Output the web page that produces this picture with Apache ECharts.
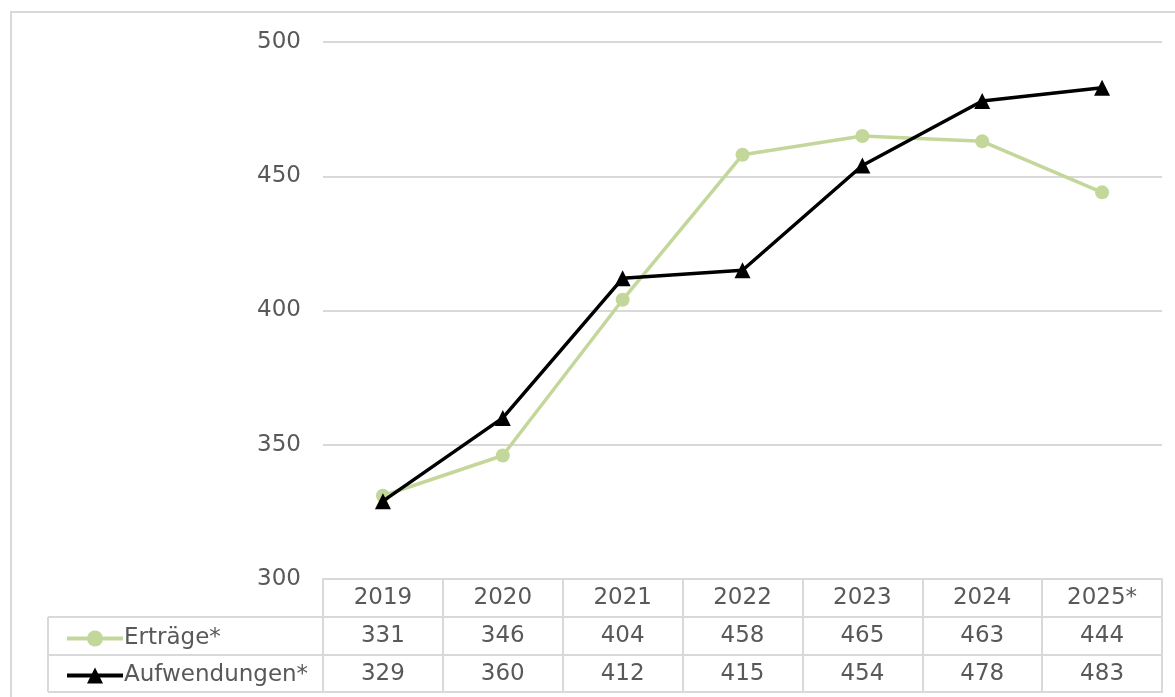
<!DOCTYPE html>
<html>
<head>
<meta charset="utf-8">
<script src="https://cdn.jsdelivr.net/npm/echarts@6/dist/echarts.min.js"></script>
<style>
  html, body { margin: 0; padding: 0; background: #fff; }
  #chart { width: 1175px; height: 697px; }
</style>
</head>
<body>
<div id="chart"></div>
<script>
// Daten
var years = ['2019', '2020', '2021', '2022', '2023', '2024', '2025*'];
var ertraege = [331, 346, 404, 458, 465, 463, 444];
var aufwendungen = [329, 360, 412, 415, 454, 478, 483];
var names = ['Erträge*', 'Aufwendungen*'];

var chart = echarts.init(document.getElementById('chart'));

var FONT = '"DejaVu Sans", Verdana, sans-serif';
var GREY = '#595959';
var LINE = '#d9d9d9';
var green = '#c4d79b';

// Layout
var gl = 323, gr = 1162, gt = 42, gb = 579;
var rowH = 38;
var tabLeft = 48;

function hline(x1, x2, y) {
    return { type: 'line', shape: { x1: x1, y1: y, x2: x2, y2: y }, style: { stroke: LINE, lineWidth: 2 }, silent: true };
}
function vline(x, y1, y2) {
    return { type: 'line', shape: { x1: x, y1: y1, x2: x, y2: y2 }, style: { stroke: LINE, lineWidth: 2 }, silent: true };
}

var tableAxis = function (data, offset) {
    return {
        type: 'category',
        data: data,
        position: 'bottom',
        offset: offset,
        boundaryGap: true,
        axisLine: { show: true, lineStyle: { color: LINE, width: 2 } },
        axisTick: { show: true, length: rowH, inside: false, lineStyle: { color: LINE, width: 2 } },
        axisLabel: { margin: rowH / 2, verticalAlign: 'middle', color: GREY, fontSize: 23, fontFamily: FONT, interval: 0 },
        splitLine: { show: false }
    };
};

var legendItem = function (name, top) {
    return {
        data: [name], left: 60, top: top, itemWidth: 56, itemHeight: 20, itemGap: 0,
        lineStyle: { width: 4 },
        textStyle: { color: GREY, fontSize: 23, fontFamily: FONT, padding: [0, 0, 0, -4] }
    };
};

var option = {
    animation: false,
    backgroundColor: '#fff',
    grid: { left: gl, right: 1175 - gr, top: gt, bottom: 697 - gb },
    xAxis: [
        tableAxis(years, 0),
        tableAxis(ertraege.map(String), rowH),
        tableAxis(aufwendungen.map(String), rowH * 2)
    ],
    yAxis: {
        type: 'value',
        min: 300,
        max: 500,
        interval: 50,
        axisLine: { show: false },
        axisTick: { show: false },
        axisLabel: { color: GREY, fontSize: 23, fontFamily: FONT, margin: 22 },
        splitLine: { lineStyle: { color: LINE, width: 2 } }
    },
    legend: [
        legendItem(names[0], 622),
        legendItem(names[1], 659)
    ],
    graphic: [
        { type: 'rect', shape: { x: 11, y: 12, width: 1200, height: 720 }, style: { fill: null, stroke: LINE, lineWidth: 2 }, silent: true, z: -10 },
        hline(tabLeft, gl, gb + rowH),
        hline(tabLeft, gl, gb + rowH * 2),
        hline(tabLeft, gr, gb + rowH * 3 - 1),
        vline(tabLeft, gb + rowH, gb + rowH * 3 - 1)
    ],
    series: [
        {
            name: names[0],
            type: 'line',
            data: ertraege,
            symbol: 'circle',
            symbolSize: 14,
            lineStyle: { color: green, width: 3.5 },
            itemStyle: { color: green },
            z: 2
        },
        {
            name: names[1],
            type: 'line',
            data: aufwendungen,
            symbol: 'triangle',
            symbolSize: 16,
            lineStyle: { color: '#000', width: 3.5 },
            itemStyle: { color: '#000' },
            z: 3
        }
    ]
};

chart.setOption(option);
</script>
</body>
</html>
